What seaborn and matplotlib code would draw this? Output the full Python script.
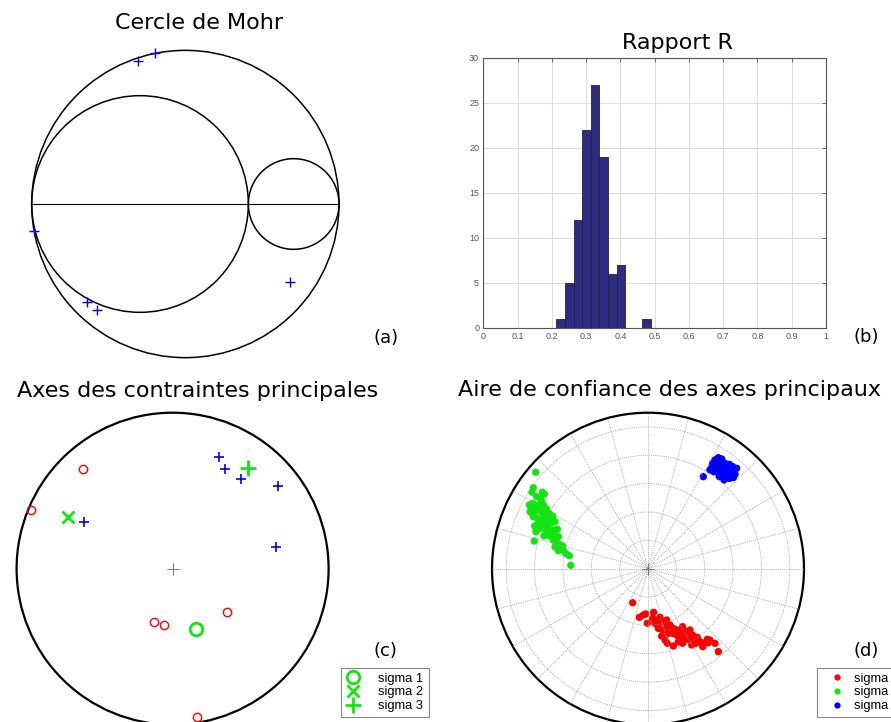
import numpy as np
import pandas as pd
import matplotlib
matplotlib.use("Agg")
import matplotlib.pyplot as plt
from matplotlib.patches import Circle
from matplotlib.lines import Line2D
import seaborn as sns

sns.set_style("white")
plt.rcParams["font.family"] = ["DejaVu Sans"]
plt.rcParams["text.color"] = "black"

W, H = 891, 722

# ---------------- data ----------------
# (a) Mohr circle: normalised principal stresses sigma3, sigma2, sigma1
mohr_sigma = [0.0, 0.705, 1.0]
mohr_pts_x = [0.345, 0.401, 0.0085, 0.180, 0.2125, 0.8415]
mohr_pts_y = [0.466, 0.490, -0.088, -0.320, -0.345, -0.253]

# (b) histogram of stress ratio R
r_bin_edges = [0.2135, 0.2386, 0.2637, 0.2888, 0.3139, 0.3390, 0.3641,
               0.3892, 0.4143, 0.4394, 0.4645, 0.4896]
r_counts = [1, 5, 12, 22, 27, 19, 6, 7, 0, 0, 1]
r_xticks = [0, 0.1, 0.2, 0.3, 0.4, 0.5, 0.6, 0.7, 0.8, 0.9, 1]
r_xticklabels = ["0", "0.1", "0.2", "0.3", "0.4", "0.5", "0.6", "0.7", "0.8", "0.9", "1"]
r_yticks = [0, 5, 10, 15, 20, 25, 30]

# (c) principal stress axes (projection coordinates, unit circle)
c_red_x = [-0.574, -0.910, -0.117, -0.055, 0.347, 0.156]
c_red_y = [0.637, 0.376, -0.342, -0.359, -0.276, -0.949]
c_blue_x = [0.299, 0.336, 0.440, 0.678, -0.566, 0.663]
c_blue_y = [0.718, 0.639, 0.573, 0.528, 0.299, 0.139]
c_sigma1 = (0.148, -0.388)
c_sigma2 = (-0.669, 0.333)
c_sigma3 = (0.481, 0.647)
legend_labels = ["sigma 1", "sigma 2", "sigma 3"]

# (d) confidence area (polar plot coordinates, rmax = 1.1)
d_s1_x = [-0.108, -0.061, -0.033, -0.016, -0.005, 0.033, 0.040, 0.061, 0.085, 0.080,
          0.108, 0.132, 0.073, 0.103, 0.132, 0.155, 0.179, 0.202, 0.143, 0.174,
          0.096, 0.202, 0.226, 0.249, 0.244, 0.261, 0.284, 0.296, 0.315, 0.226,
          0.254, 0.284, 0.320, 0.348, 0.367, 0.339, 0.390, 0.418, 0.425, 0.437,
          0.472, 0.386, 0.179, 0.136, 0.244, 0.496, 0.049, 0.120, 0.308, 0.214]
d_s1_y = [-0.240, -0.343, -0.327, -0.319, -0.385, -0.350, -0.308, -0.362, -0.343, -0.385,
          -0.374, -0.362, -0.421, -0.432, -0.409, -0.397, -0.421, -0.432, -0.456, -0.456,
          -0.475, -0.468, -0.451, -0.432, -0.409, -0.468, -0.456, -0.432, -0.468, -0.491,
          -0.503, -0.498, -0.503, -0.484, -0.515, -0.526, -0.526, -0.498, -0.522, -0.503,
          -0.526, -0.550, -0.545, -0.526, -0.526, -0.585, -0.385, -0.503, -0.538, -0.515]
d_s2_x = [-0.792, -0.809, -0.745, -0.731, -0.818, -0.785, -0.757, -0.837, -0.813, -0.790,
          -0.766, -0.738, -0.820, -0.797, -0.766, -0.743, -0.715, -0.698, -0.809, -0.780,
          -0.750, -0.722, -0.691, -0.672, -0.799, -0.771, -0.738, -0.708, -0.679, -0.656,
          -0.790, -0.719, -0.691, -0.663, -0.639, -0.733, -0.691, -0.661, -0.632, -0.802,
          -0.668, -0.644, -0.625, -0.656, -0.602, -0.632, -0.597, -0.581, -0.555, -0.545,
          -0.762, -0.832, -0.703, -0.750]
d_s2_y = [0.680, 0.571, 0.539, 0.527, 0.539, 0.508, 0.496, 0.449, 0.461, 0.437,
          0.456, 0.449, 0.419, 0.402, 0.414, 0.390, 0.419, 0.390, 0.367, 0.355,
          0.343, 0.355, 0.367, 0.372, 0.301, 0.325, 0.308, 0.301, 0.325, 0.332,
          0.261, 0.261, 0.273, 0.273, 0.278, 0.231, 0.231, 0.238, 0.226, 0.195,
          0.202, 0.184, 0.172, 0.155, 0.160, 0.127, 0.132, 0.108, 0.092, 0.024,
          0.285, 0.402, 0.332, 0.473]
d_s3_x = [0.390, 0.536, 0.496, 0.472, 0.520, 0.456, 0.484, 0.512, 0.543, 0.574,
          0.597, 0.449, 0.480, 0.508, 0.536, 0.567, 0.602, 0.614, 0.583, 0.550,
          0.520, 0.489, 0.465, 0.574, 0.602, 0.503, 0.531, 0.437, 0.625]
d_s3_y = [0.649, 0.626, 0.783, 0.767, 0.774, 0.743, 0.743, 0.743, 0.743, 0.736,
          0.720, 0.712, 0.712, 0.712, 0.708, 0.708, 0.696, 0.666, 0.666, 0.673,
          0.680, 0.680, 0.684, 0.637, 0.642, 0.649, 0.649, 0.696, 0.708]
d_rings = [0.2, 0.4, 0.6, 0.8, 1.0]
d_rmax = 1.1

# colours
RED, GREEN, BLUE = "#ff0000", "#11e611", "#0000ff"

fig = plt.figure(figsize=(W / 100, H / 100), dpi=100)


def add_ax(left, top, right, bottom):
    return fig.add_axes([left / W, 1 - bottom / H, (right - left) / W, (bottom - top) / H])


def map_limits(ax, left, top, right, bottom, cx, cy, scale):
    ax.set_xlim((left - cx) / scale, (right - cx) / scale)
    ax.set_ylim((cy - bottom) / scale, (cy - top) / scale)


def ftext(x, y, s, size, **kw):
    fig.text(x / W, 1 - y / H, s, fontsize=size, ha="center", va="center",
             color="black", **kw)


# ---------------- (a) Mohr ----------------
box = (5, 35, 360, 372)
ax_a = add_ax(*box)
map_limits(ax_a, *box, 31.7, 204, 307.3)
ax_a.axis("off")
s3, s2, s1 = mohr_sigma
for a, b in [(s3, s1), (s3, s2), (s2, s1)]:
    ax_a.add_patch(Circle(((a + b) / 2, 0), (b - a) / 2, fill=False,
                          ec="black", lw=1.1, clip_on=False))
ax_a.plot([s3, s1], [0, 0], color="black", lw=0.8)
ax_a.plot(mohr_pts_x, mohr_pts_y, "+", color=BLUE, ms=7.5, mew=1.0, clip_on=False)

# ---------------- (b) histogram ----------------
ax_b = add_ax(483.3, 57.7, 826, 327.7)
centers = [(r_bin_edges[i] + r_bin_edges[i + 1]) / 2 for i in range(len(r_counts))]
sns.histplot(x=centers, weights=r_counts, bins=r_bin_edges, ax=ax_b,
             color="#2f2a82", edgecolor="#222233", linewidth=0.6, alpha=1)
ax_b.set_xlim(0, 1)
ax_b.set_ylim(0, 30)
ax_b.set_xticks(r_xticks)
ax_b.set_xticklabels(r_xticklabels)
ax_b.set_yticks(r_yticks)
ax_b.set_xlabel("")
ax_b.set_ylabel("")
ax_b.grid(True, color="#dedede", lw=0.8)
ax_b.set_axisbelow(True)
ax_b.tick_params(direction="in", top=True, right=True, length=3, width=0.6,
                 colors="#555555", labelsize=6.5, pad=3)
for lab in ax_b.get_xticklabels() + ax_b.get_yticklabels():
    lab.set_fontfamily("Liberation Sans")
for sp in ax_b.spines.values():
    sp.set_color("#555555")
    sp.set_linewidth(0.8)

# ---------------- (c) principal axes ----------------
box = (5, 400, 335, 722)
ax_c = add_ax(*box)
map_limits(ax_c, *box, 172.6, 568.7, 156)
ax_c.axis("off")
ax_c.add_patch(Circle((0, 0), 1, fill=False, ec="black", lw=1.6, clip_on=False))
ax_c.plot([0], [0], "+", color="#777777", ms=8, mew=0.7)
ax_c.plot(c_red_x, c_red_y, "o", mfc="none", mec=RED, ms=6, mew=1.0, clip_on=False)
ax_c.plot(c_blue_x, c_blue_y, "+", color=BLUE, ms=7, mew=1.2, clip_on=False)
ax_c.plot(*c_sigma1, "o", mfc="none", mec=GREEN, ms=9, mew=2)
ax_c.plot(*c_sigma2, "x", color=GREEN, ms=8.5, mew=2)
ax_c.plot(*c_sigma3, "+", color=GREEN, ms=11, mew=2)

handles_c = [
    Line2D([], [], ls="none", marker="o", mfc="none", mec=GREEN, ms=9, mew=2),
    Line2D([], [], ls="none", marker="x", color=GREEN, ms=8.5, mew=2),
    Line2D([], [], ls="none", marker="+", color=GREEN, ms=11, mew=2),
]
leg_c = fig.legend(handles_c, legend_labels, loc="upper left",
                   bbox_to_anchor=(341 / W, 1 - 667.7 / H), bbox_transform=fig.transFigure,
                   borderaxespad=0, fancybox=False, framealpha=1, edgecolor="#888888",
                   prop={"family": "Liberation Sans", "size": 9.3},
                   handlelength=1.0, handletextpad=1.5, labelspacing=0.12, borderpad=0.4)
leg_c.get_frame().set_linewidth(0.8)

# ---------------- (d) confidence area ----------------
box = (485, 400, 815, 722)
ax_d = add_ax(*box)
th = np.linspace(0, 2 * np.pi, 361)
for r in d_rings:
    ax_d.plot(r * np.cos(th), r * np.sin(th), ls=(0, (1, 1.3)), color="#9a9a9a", lw=0.6)
for ang in np.deg2rad(np.arange(0, 180, 15)):
    ax_d.plot([-d_rmax * np.cos(ang), d_rmax * np.cos(ang)],
              [-d_rmax * np.sin(ang), d_rmax * np.sin(ang)],
              ls=(0, (1, 1.3)), color="#9a9a9a", lw=0.6, clip_on=False)
ax_d.add_patch(Circle((0, 0), d_rmax, fill=False, ec="black", lw=1.6, clip_on=False))
ax_d.plot([0], [0], "+", color="#777777", ms=8, mew=0.7)

df_d = pd.DataFrame({
    "x": d_s1_x + d_s2_x + d_s3_x,
    "y": d_s1_y + d_s2_y + d_s3_y,
    "axe": (["sigma 1"] * len(d_s1_x) + ["sigma 2"] * len(d_s2_x)
            + ["sigma 3"] * len(d_s3_x)),
})
sns.scatterplot(data=df_d, x="x", y="y", hue="axe",
                palette={"sigma 1": RED, "sigma 2": GREEN, "sigma 3": BLUE},
                s=28, linewidth=0, ax=ax_d, legend=False, clip_on=False)
map_limits(ax_d, *box, 648, 568.7, 141.8)
ax_d.axis("off")

handles_d = [Line2D([], [], ls="none", marker="o", color=c, mec="none", ms=4.5)
             for c in (RED, GREEN, BLUE)]
leg_d = fig.legend(handles_d, legend_labels, loc="upper left",
                   bbox_to_anchor=(816.7 / W, 1 - 667.7 / H), bbox_transform=fig.transFigure,
                   borderaxespad=0, fancybox=False, framealpha=1, edgecolor="#888888",
                   prop={"family": "Liberation Sans", "size": 9.3},
                   handlelength=2.4, handletextpad=0.1, labelspacing=0.12, borderpad=0.4)
leg_d.get_frame().set_linewidth(0.8)

# ---------------- texts ----------------
ftext(198.8, 23, "Cercle de Mohr", 16)
ftext(677, 43, "Rapport R", 16)
ftext(197.3, 391, "Axes des contraintes principales", 16)
ftext(669.2, 390, "Aire de confiance des axes principaux", 16)
ftext(385.8, 338, "(a)", 13)
ftext(865.8, 337, "(b)", 13)
ftext(385, 651.5, "(c)", 13)
ftext(866, 651.5, "(d)", 13)

fig.savefig("out.png", dpi=100)
